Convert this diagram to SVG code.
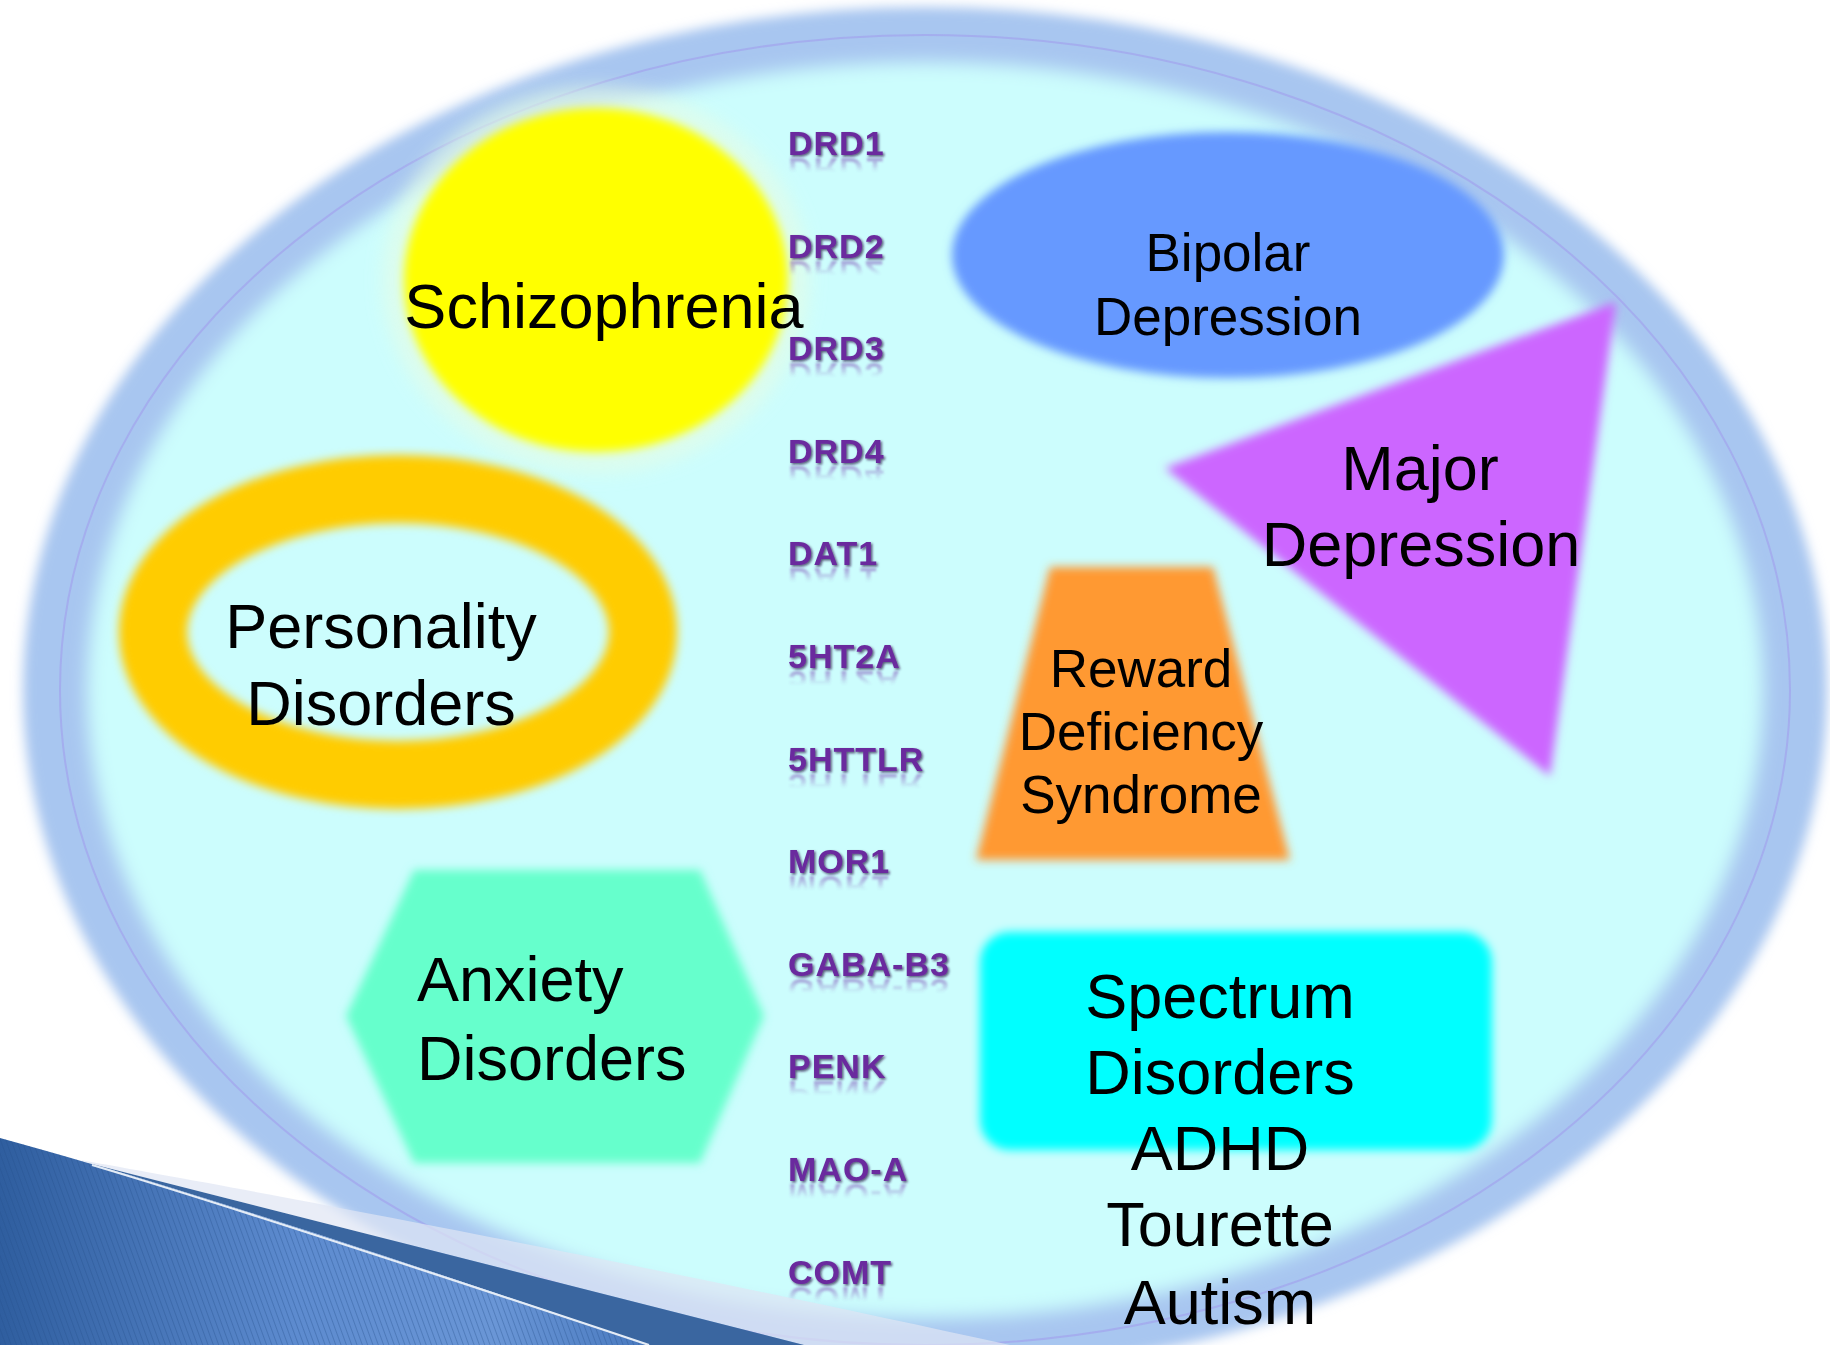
<svg xmlns="http://www.w3.org/2000/svg" width="1830" height="1345" viewBox="0 0 1830 1345">
  <defs>
    <style>
      .lbl { font-family: "Liberation Sans", Arial, sans-serif; fill: #000; text-anchor: middle; }
      .big { font-size: 63px; }
      .mid { font-size: 53px; }
      .gene { font-family: "Liberation Sans", Arial, sans-serif; font-weight: bold; font-size: 34px; letter-spacing: 1px; fill: #6a2a9e; filter: url(#geneShadow); }
      .refl { font-family: "Liberation Sans", Arial, sans-serif; font-weight: bold; font-size: 34px; letter-spacing: 1px; fill: url(#reflGrad); filter: url(#reflBlur); }
      .soft { filter: url(#softEdge); }
    </style>
    <filter id="softEdge" x="-15%" y="-15%" width="130%" height="130%">
      <feGaussianBlur stdDeviation="5"/>
    </filter>
    <filter id="halo" x="-20%" y="-20%" width="140%" height="140%">
      <feGaussianBlur stdDeviation="9"/>
    </filter>
    <filter id="bandBlur" x="-5%" y="-5%" width="110%" height="110%">
      <feGaussianBlur stdDeviation="6"/>
    </filter>
    <filter id="innerBlur" x="-5%" y="-5%" width="110%" height="110%">
      <feGaussianBlur stdDeviation="9"/>
    </filter>
    <filter id="geneShadow" x="-10%" y="-20%" width="130%" height="150%">
      <feDropShadow dx="1.5" dy="1.5" stdDeviation="1.2" flood-color="#240840" flood-opacity="0.7"/>
    </filter>
    <filter id="reflBlur" x="-10%" y="-20%" width="120%" height="140%">
      <feGaussianBlur stdDeviation="0.8"/>
    </filter>
    <linearGradient id="reflGrad" x1="0" y1="0" x2="0" y2="1">
      <stop offset="0.45" stop-color="#7a40b0" stop-opacity="0"/>
      <stop offset="0.82" stop-color="#7a40b0" stop-opacity="0.5"/>
    </linearGradient>
    <linearGradient id="swooshFill" gradientUnits="userSpaceOnUse" x1="0" y1="1345" x2="660" y2="1345">
      <stop offset="0" stop-color="#2f5e9f"/>
      <stop offset="0.45" stop-color="#5d8bcf"/>
      <stop offset="0.75" stop-color="#6a96d6"/>
      <stop offset="1" stop-color="#4677bd"/>
    </linearGradient>
    <pattern id="stripes" width="5" height="20" patternUnits="userSpaceOnUse" patternTransform="rotate(-20)">
      <line x1="0.5" y1="0" x2="0.5" y2="20" stroke="#24508c" stroke-width="1" stroke-opacity="0.35"/>
    </pattern>
  </defs>

  <rect width="1830" height="1345" fill="#ffffff"/>

  <!-- outer container: blue glowing band with a pale cyan interior -->
  <g id="container">
    <ellipse cx="925" cy="690" rx="902" ry="683" fill="#a8c6f0" filter="url(#bandBlur)"/>
    <ellipse cx="925" cy="690" rx="838" ry="628" fill="#ccfdfd" filter="url(#innerBlur)"/>
    <ellipse cx="925" cy="690" rx="865" ry="655" fill="none" stroke="#a2a8ee" stroke-width="2" stroke-opacity="0.8"/>
  </g>

  <!-- disorder shapes -->
  <g id="node-schizophrenia">
    <ellipse cx="596" cy="280" rx="213" ry="193" fill="#e4fde6" opacity="0.7" filter="url(#halo)"/>
    <ellipse class="soft" cx="596" cy="280" rx="192" ry="172" fill="#ffff00"/>
    <text class="lbl big" x="604" y="328">Schizophrenia</text>
  </g>

  <g id="node-bipolar">
    <ellipse class="soft" cx="1228" cy="255" rx="276" ry="123" fill="#6699ff"/>
    <text class="lbl mid" x="1228" y="271">Bipolar</text>
    <text class="lbl mid" x="1228" y="335">Depression</text>
  </g>

  <g id="node-major-depression">
    <polygon class="soft" points="1165,468 1616,302 1550,776" fill="#cc66ff"/>
    <text class="lbl big" x="1420" y="490">Major</text>
    <text class="lbl big" x="1421" y="566">Depression</text>
  </g>

  <g id="node-reward-deficiency">
    <polygon class="soft" points="1050,567 1213,567 1290,860 976,860" fill="#ff9933"/>
    <text class="lbl mid" x="1141" y="687">Reward</text>
    <text class="lbl mid" x="1141" y="750">Deficiency</text>
    <text class="lbl mid" x="1141" y="813">Syndrome</text>
  </g>

  <g id="node-personality">
    <ellipse class="soft" cx="398" cy="632" rx="245" ry="143" fill="none" stroke="#ffcc00" stroke-width="68"/>
    <text class="lbl big" x="381" y="648">Personality</text>
    <text class="lbl big" x="381" y="725">Disorders</text>
  </g>

  <g id="node-anxiety">
    <polygon class="soft" points="346,1016 414,870 700,870 764,1016 700,1163 414,1163" fill="#66ffcc"/>
    <text class="lbl big" x="417" y="1001" style="text-anchor:start">Anxiety</text>
    <text class="lbl big" x="417" y="1080" style="text-anchor:start">Disorders</text>
  </g>

  <g id="node-spectrum">
    <rect class="soft" x="980" y="932" width="512" height="218" rx="30" ry="30" fill="#00ffff"/>
    <text class="lbl big" x="1220" y="1018">Spectrum</text>
    <text class="lbl big" x="1220" y="1094">Disorders</text>
    <text class="lbl big" x="1220" y="1170">ADHD</text>
    <text class="lbl big" x="1220" y="1246">Tourette</text>
    <text class="lbl big" x="1220" y="1324">Autism</text>
  </g>

  <!-- gene column with mirrored reflections under each name -->
  <g id="genes">
    <g id="gene-DRD1"><text class="gene" x="788" y="155">DRD1</text><text class="refl" x="788" y="155" transform="matrix(1 0 0 -1 0 313)">DRD1</text></g>
    <g id="gene-DRD2"><text class="gene" x="788" y="258">DRD2</text><text class="refl" x="788" y="258" transform="matrix(1 0 0 -1 0 519)">DRD2</text></g>
    <g id="gene-DRD3"><text class="gene" x="788" y="360">DRD3</text><text class="refl" x="788" y="360" transform="matrix(1 0 0 -1 0 723)">DRD3</text></g>
    <g id="gene-DRD4"><text class="gene" x="788" y="463">DRD4</text><text class="refl" x="788" y="463" transform="matrix(1 0 0 -1 0 929)">DRD4</text></g>
    <g id="gene-DAT1"><text class="gene" x="788" y="565">DAT1</text><text class="refl" x="788" y="565" transform="matrix(1 0 0 -1 0 1133)">DAT1</text></g>
    <g id="gene-5HT2A"><text class="gene" x="788" y="668">5HT2A</text><text class="refl" x="788" y="668" transform="matrix(1 0 0 -1 0 1339)">5HT2A</text></g>
    <g id="gene-5HTTLR"><text class="gene" x="788" y="771">5HTTLR</text><text class="refl" x="788" y="771" transform="matrix(1 0 0 -1 0 1545)">5HTTLR</text></g>
    <g id="gene-MOR1"><text class="gene" x="788" y="873">MOR1</text><text class="refl" x="788" y="873" transform="matrix(1 0 0 -1 0 1749)">MOR1</text></g>
    <g id="gene-GABA-B3"><text class="gene" x="788" y="976">GABA-B3</text><text class="refl" x="788" y="976" transform="matrix(1 0 0 -1 0 1955)">GABA-B3</text></g>
    <g id="gene-PENK"><text class="gene" x="788" y="1078">PENK</text><text class="refl" x="788" y="1078" transform="matrix(1 0 0 -1 0 2159)">PENK</text></g>
    <g id="gene-MAO-A"><text class="gene" x="788" y="1181">MAO-A</text><text class="refl" x="788" y="1181" transform="matrix(1 0 0 -1 0 2365)">MAO-A</text></g>
    <g id="gene-COMT"><text class="gene" x="788" y="1284">COMT</text><text class="refl" x="788" y="1284" transform="matrix(1 0 0 -1 0 2571)">COMT</text></g>
  </g>

  <g id="connectors"></g>

  <!-- decorative corner swoosh -->
  <g id="swoosh">
    <path d="M80,1160 C250,1190 600,1255 1010,1345 L804,1345 L88,1163 Z" fill="#dfe5f4" fill-opacity="0.7"/>
    <path d="M88,1163 L804,1345 L649,1345 C400,1260 200,1195 88,1163 Z" fill="#3a66a0"/>
    <path d="M0,1138 C30,1146 60,1155 88,1163 C200,1195 400,1260 649,1345 L0,1345 Z" fill="url(#swooshFill)"/>
    <path d="M0,1138 C30,1146 60,1155 88,1163 C200,1195 400,1260 649,1345 L0,1345 Z" fill="url(#stripes)"/>
    <path d="M92,1165 C200,1197 400,1262 649,1345" fill="none" stroke="#e4ecf6" stroke-width="2.2"/>
  </g>
</svg>
